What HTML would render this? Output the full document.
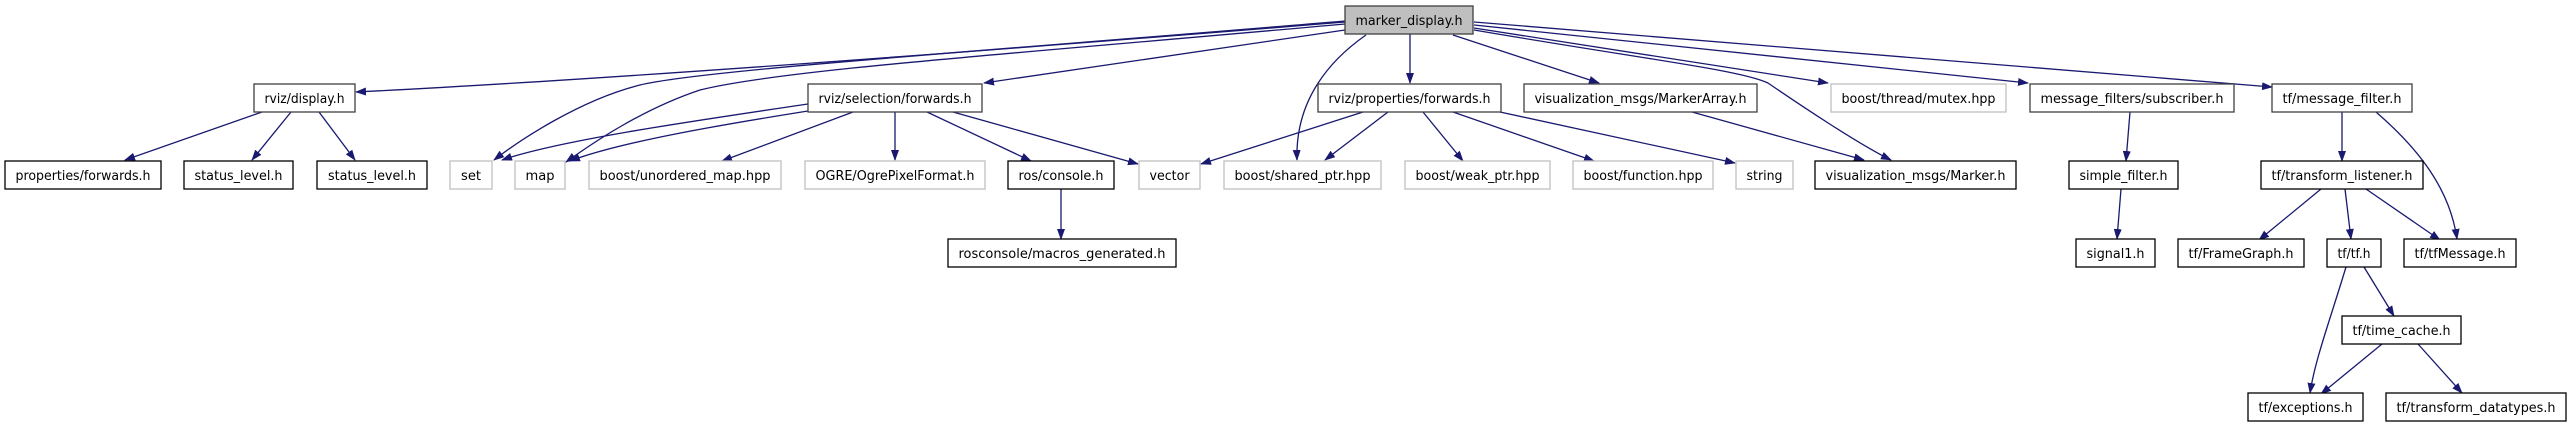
<!DOCTYPE html>
<html><head><meta charset="utf-8"><style>html,body{margin:0;padding:0;background:#fff}svg{display:block}</style></head>
<body>
<svg width="2571" height="427" viewBox="0 0 2571 427" xmlns="http://www.w3.org/2000/svg" font-family="'DejaVu Sans','Liberation Sans',sans-serif" font-size="13">
<defs>
<marker id="a" markerWidth="11" markerHeight="8" refX="10" refY="4" orient="auto" markerUnits="userSpaceOnUse">
<path d="M0,0 L11,4 L0,8 z" fill="#191970"/></marker>
</defs>
<g fill="none" stroke="#191970" stroke-width="1.3" marker-end="url(#a)">
<path d="M1345,22 C1000,50 600,80 356,92"/>
<path d="M1345,21 C1000,50 700,70 640,85 C580,100 520,140 494,160"/>
<path d="M1345,24 C1000,55 780,70 700,90 C640,110 590,145 566,162"/>
<path d="M1345,30 L984,83"/>
<path d="M1366,35 C1330,60 1295,100 1297,160"/>
<path d="M1410,34 L1410,83"/>
<path d="M1453,35 L1599,83"/>
<path d="M1474,28 L1828,83"/>
<path d="M1474,30 C1650,60 1740,70 1768,83 C1800,105 1860,145 1891,160"/>
<path d="M1474,25 L2028,83"/>
<path d="M1474,22 L2272,87"/>
<path d="M262,112 L125,160"/>
<path d="M291,112 L252,160"/>
<path d="M319,112 L355,160"/>
<path d="M808,104 C700,120 560,140 502,160"/>
<path d="M808,111 C720,125 620,142 570,161"/>
<path d="M853,112 L722,161"/>
<path d="M895,112 L895,160"/>
<path d="M927,112 L1031,161"/>
<path d="M953,112 L1138,164"/>
<path d="M1363,112 L1201,164"/>
<path d="M1388,112 L1325,160"/>
<path d="M1423,112 L1463,161"/>
<path d="M1453,112 L1594,161"/>
<path d="M1500,112 L1735,163"/>
<path d="M1692,112 L1864,160"/>
<path d="M1061,189 L1061,239"/>
<path d="M2130,112 L2126,161"/>
<path d="M2121,189 L2117,239"/>
<path d="M2342,112 L2342,161"/>
<path d="M2376,112 C2420,150 2450,190 2457,239"/>
<path d="M2321,189 L2259,240"/>
<path d="M2345,189 L2351,239"/>
<path d="M2366,189 L2440,240"/>
<path d="M2346,267 C2330,320 2315,360 2310,393"/>
<path d="M2364,267 L2394,316"/>
<path d="M2382,344 L2321,394"/>
<path d="M2418,344 L2462,393"/>
</g>
<g stroke-width="1.3">
<!-- row0 -->
<rect x="1345" y="6" width="128" height="28" fill="#bfbfbf" stroke="#404040"/>
<!-- black nodes -->
<g fill="#fff" stroke="#404040">
<rect x="254" y="84" width="101" height="28"/>
<rect x="808" y="84" width="174" height="28"/>
<rect x="1318" y="84" width="183" height="28"/>
<rect x="1524" y="84" width="233" height="28"/>
<rect x="2030" y="84" width="204" height="28"/>
<rect x="2272" y="84" width="140" height="28"/>
</g>
<g fill="#fff" stroke="#000">
<rect x="5" y="161" width="156" height="28"/>
<rect x="184" y="161" width="109" height="28"/>
<rect x="317" y="161" width="110" height="28"/>
<rect x="1008" y="161" width="106" height="28"/>
<rect x="1815" y="161" width="201" height="28"/>
<rect x="2069" y="161" width="109" height="28"/>
<rect x="2261" y="161" width="162" height="28"/>
<rect x="948" y="239" width="228" height="28"/>
<rect x="2076" y="239" width="79" height="28"/>
<rect x="2178" y="239" width="126" height="28"/>
<rect x="2327" y="239" width="54" height="28"/>
<rect x="2404" y="239" width="112" height="28"/>
<rect x="2342" y="316" width="119" height="28"/>
<rect x="2248" y="393" width="115" height="28"/>
<rect x="2386" y="393" width="180" height="28"/>
</g>
<g fill="#fff" stroke="#bfbfbf">
<rect x="1831" y="84" width="175" height="28"/>
<rect x="450" y="161" width="42" height="28"/>
<rect x="515" y="161" width="50" height="28"/>
<rect x="589" y="161" width="192" height="28"/>
<rect x="805" y="161" width="180" height="28"/>
<rect x="1139" y="161" width="61" height="28"/>
<rect x="1224" y="161" width="157" height="28"/>
<rect x="1405" y="161" width="145" height="28"/>
<rect x="1573" y="161" width="140" height="28"/>
<rect x="1736" y="161" width="57" height="28"/>
</g>
</g>
<g fill="#000" text-anchor="middle" lengthAdjust="spacingAndGlyphs">
<text x="1409" y="25" textLength="107" lengthAdjust="spacingAndGlyphs">marker_display.h</text>
<text x="304.5" y="103" textLength="80" lengthAdjust="spacingAndGlyphs">rviz/display.h</text>
<text x="895" y="103" textLength="153" lengthAdjust="spacingAndGlyphs">rviz/selection/forwards.h</text>
<text x="1409.5" y="103" textLength="162" lengthAdjust="spacingAndGlyphs">rviz/properties/forwards.h</text>
<text x="1640.5" y="103" textLength="212" lengthAdjust="spacingAndGlyphs">visualization_msgs/MarkerArray.h</text>
<text x="1918.5" y="103" textLength="154" lengthAdjust="spacingAndGlyphs">boost/thread/mutex.hpp</text>
<text x="2132" y="103" textLength="183" lengthAdjust="spacingAndGlyphs">message_filters/subscriber.h</text>
<text x="2342" y="103" textLength="119" lengthAdjust="spacingAndGlyphs">tf/message_filter.h</text>
<text x="83" y="180" textLength="135" lengthAdjust="spacingAndGlyphs">properties/forwards.h</text>
<text x="238.5" y="180" textLength="88" lengthAdjust="spacingAndGlyphs">status_level.h</text>
<text x="372" y="180" textLength="88" lengthAdjust="spacingAndGlyphs">status_level.h</text>
<text x="471" y="180" textLength="20" lengthAdjust="spacingAndGlyphs">set</text>
<text x="540" y="180" textLength="29" lengthAdjust="spacingAndGlyphs">map</text>
<text x="685" y="180" textLength="171" lengthAdjust="spacingAndGlyphs">boost/unordered_map.hpp</text>
<text x="895" y="180" textLength="159" lengthAdjust="spacingAndGlyphs">OGRE/OgrePixelFormat.h</text>
<text x="1061" y="180" textLength="85" lengthAdjust="spacingAndGlyphs">ros/console.h</text>
<text x="1169.5" y="180" textLength="40" lengthAdjust="spacingAndGlyphs">vector</text>
<text x="1302.5" y="180" textLength="136" lengthAdjust="spacingAndGlyphs">boost/shared_ptr.hpp</text>
<text x="1477.5" y="180" textLength="124" lengthAdjust="spacingAndGlyphs">boost/weak_ptr.hpp</text>
<text x="1643" y="180" textLength="119" lengthAdjust="spacingAndGlyphs">boost/function.hpp</text>
<text x="1764.5" y="180" textLength="36" lengthAdjust="spacingAndGlyphs">string</text>
<text x="1915.5" y="180" textLength="180" lengthAdjust="spacingAndGlyphs">visualization_msgs/Marker.h</text>
<text x="2123.5" y="180" textLength="88" lengthAdjust="spacingAndGlyphs">simple_filter.h</text>
<text x="2342" y="180" textLength="141" lengthAdjust="spacingAndGlyphs">tf/transform_listener.h</text>
<text x="1062" y="258" textLength="207" lengthAdjust="spacingAndGlyphs">rosconsole/macros_generated.h</text>
<text x="2115.5" y="258" textLength="58" lengthAdjust="spacingAndGlyphs">signal1.h</text>
<text x="2241" y="258" textLength="105" lengthAdjust="spacingAndGlyphs">tf/FrameGraph.h</text>
<text x="2354" y="258" textLength="33" lengthAdjust="spacingAndGlyphs">tf/tf.h</text>
<text x="2460" y="258" textLength="91" lengthAdjust="spacingAndGlyphs">tf/tfMessage.h</text>
<text x="2401.5" y="335" textLength="98" lengthAdjust="spacingAndGlyphs">tf/time_cache.h</text>
<text x="2305.5" y="412" textLength="94" lengthAdjust="spacingAndGlyphs">tf/exceptions.h</text>
<text x="2476" y="412" textLength="159" lengthAdjust="spacingAndGlyphs">tf/transform_datatypes.h</text>
</g>
</svg>
</body></html>
